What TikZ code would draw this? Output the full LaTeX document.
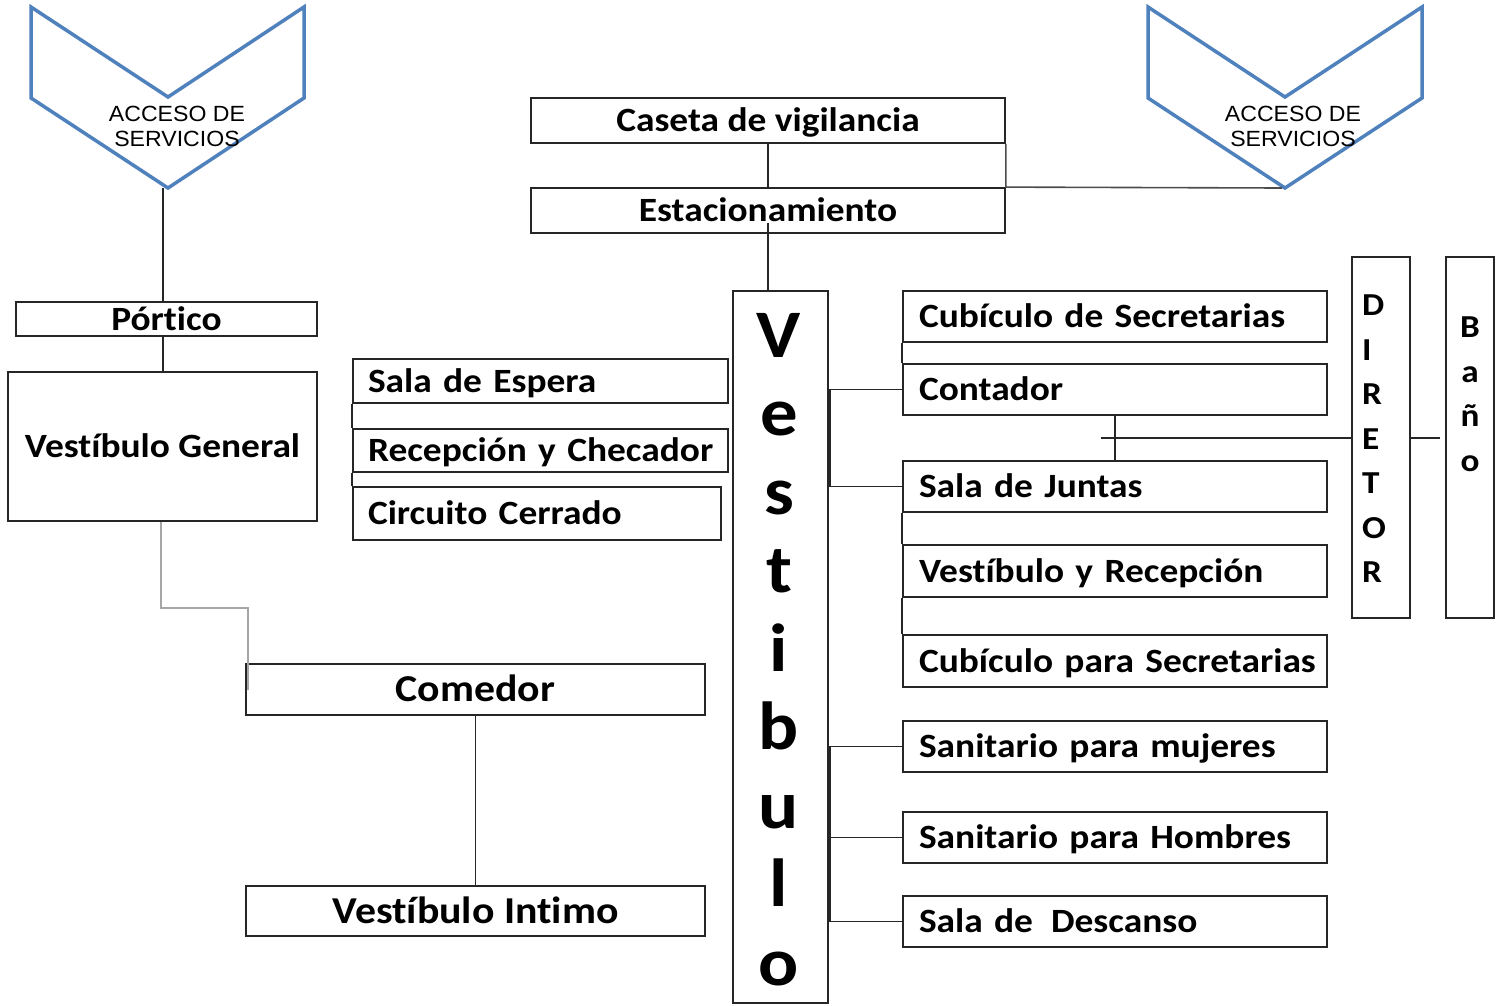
\documentclass[tikz,border=0pt]{standalone}
\usepackage{fontspec}
\setmainfont{Carlito}[FakeStretch=1.1, Ligatures=NoCommon]
\newfontfamily\accfont{Liberation Sans}[FakeStretch=1.05]
\usetikzlibrary{calc}
\definecolor{chevblue}{HTML}{4F81BD}
\definecolor{lgray}{HTML}{A6A6A6}
\tikzset{
  box/.style={draw=black!85, line width=1.8pt, inner sep=0pt, text height=22pt, text depth=0pt,
    font=\bfseries\fontsize{34}{40}\selectfont},
  bigbox/.style={box, text height=24.5pt, font=\bfseries\fontsize{38}{44}\selectfont},
  lbox/.style={box, align=left, inner xsep=16pt, text width=#1},
  emptybox/.style={draw=black!85, line width=1.8pt, inner sep=0pt},
  conn/.style={draw=black!85, line width=1.4pt},
  gconn/.style={draw=lgray, line width=1.4pt},
  darkconn/.style={draw=black!70, line width=1.6pt},
  chev/.style={draw=chevblue, line width=3.5pt, line join=miter},
  acc/.style={font=\accfont\fontsize{22}{25}\selectfont, align=center, inner sep=0pt},
}
\begin{document}
\begin{tikzpicture}[x=1pt,y=-1pt]
\useasboundingbox (0,0) rectangle (1497,1005);

% access chevrons
\draw[chev] (31,7) -- (168,97) -- (304,7) -- (304,98) -- (168,188) -- (31,98) -- cycle;
\node[acc, anchor=north] (acc1) at (177,106) {ACCESO DE\\SERVICIOS};
\draw[chev] (1148,7) -- (1285,97) -- (1422,7) -- (1422,98) -- (1285,188) -- (1148,98) -- cycle;
\node[acc, anchor=north] (acc2) at (1293,106) {ACCESO DE\\SERVICIOS};
\coordinate (a1tip) at (163,188);
\coordinate (a2tip) at (1282,188);

% top centre
\node[box, minimum width=474pt, minimum height=45pt] (cas) at (768,120.5) {Caseta de vigilancia};
\node[box, minimum width=474pt, minimum height=45pt] (est) at (768,210.5) {Estacionamiento};

% left column
\node[box, minimum width=301pt, minimum height=34pt] (por) at (166.5,319) {Pórt\kern0pt ico};
\node[box, minimum width=309pt, minimum height=149pt] (vg) at (162.5,446.5) {Vestíbulo General};
\node[bigbox, minimum width=459pt, minimum height=51pt] (com) at (475.5,689.5) {Comedor};
\node[bigbox, minimum width=459pt, minimum height=50pt] (vi) at (475.5,911) {Vestíbulo Intimo};

% middle-left
\node[lbox=345pt, inner xsep=15pt, minimum height=44pt] (se) at (540.5,381) {\mbox{Sala de Espera}};
\node[lbox=345pt, inner xsep=15pt, minimum height=43pt] (rc) at (540.5,450.5) {\mbox{Recepción y Checador}};
\node[lbox=338pt, inner xsep=15pt, minimum height=53pt] (cc) at (537,513.5) {\mbox{Circuito Cerrado}};

% vestibulo
\node[emptybox, minimum width=95pt, minimum height=712pt] (vest) at (780.5,647) {};
\node[inner sep=0pt, align=center, anchor=north, font=\bfseries\fontsize{68}{78.5}\selectfont] (vestxt) at (779,313)
  {V\\e\\s\\t\\i\\b\\u\\l\\o};

% right column
\node[lbox=392pt, minimum height=51pt] (cs) at (1115,316.5) {\mbox{Cubículo de Secretarias}};
\node[lbox=392pt, minimum height=51pt] (ct) at (1115,389.5) {\mbox{Contador}};
\node[lbox=392pt, minimum height=51pt] (sj) at (1115,486.5) {\mbox{Sala de Juntas}};
\node[lbox=392pt, minimum height=52pt] (vr) at (1115,571) {\mbox{Vestíbulo y Recepción}};
\node[lbox=392pt, minimum height=52pt] (cp) at (1115,661) {\mbox{Cubículo para Secretarias}};
\node[lbox=392pt, minimum height=51pt] (sm) at (1115,746.5) {\mbox{Sanitario para mujeres}};
\node[lbox=392pt, minimum height=51pt] (sh) at (1115,837.5) {\mbox{Sanitario para Hombres}};
\node[lbox=392pt, minimum height=51pt] (sd) at (1115,921.5) {\mbox{Sala de\hspace{18pt}Descanso}};

% director and bano
\node[emptybox, minimum width=58pt, minimum height=361pt] (dir) at (1381,437.5) {};
\node[align=left, anchor=north west, inner sep=0pt, font=\bfseries\fontsize{32}{44.5}\selectfont] (dirtxt) at (1362,295)
  {D\\I\\R\\E\\T\\O\\R};
\node[emptybox, minimum width=48pt, minimum height=361pt] (bano) at (1470,437.5) {};
\node[align=center, anchor=north, inner sep=0pt, font=\bfseries\fontsize{32}{44.5}\selectfont] (banotxt) at (1470,317)
  {B\\a\\ñ\\o};

% connectors
\draw[conn] (a1tip) -- (a1tip |- por.north);
\draw[conn] (por.south -| a1tip) -- (vg.north -| a1tip);
\draw[gconn] ([xshift=-1.5pt]vg.south) -- ++(0,86) -| ([xshift=3pt,yshift=-27pt]com.north west);
\draw[conn] (com.south) -- (vi.north);

\draw[conn] (cas.south) -- (est.north);
\draw[darkconn] (a2tip) -- (est.north east) -- (cas.south east);
\draw[conn] ([yshift=11pt]est.south) -- (est.south |- vest.north);

\draw[conn] (se.south west) -- (rc.north west);
\draw[conn] (rc.south west) -- (cc.north west);

\draw[conn] (cs.south west) -- (ct.north west);
\draw[conn] (sj.south west) -- (vr.north west);
\draw[conn] (vr.south west) -- (cp.north west);
\draw[conn] (ct.west) -- ++(-72,0) |- (sj.west);
\draw[conn] (sm.west) -- ++(-72,0) |- (sd.west);
\draw[conn] (sh.west) -- ++(-72,0);

\draw[conn] (ct.south) -- (sj.north);
\coordinate (dl) at (1101,438);
\coordinate (dr) at (1440,438);
\draw[conn] (dl) -- (dl -| dir.west);
\draw[conn] (dir.east |- dr) -- (dr);
\end{tikzpicture}
\end{document}
